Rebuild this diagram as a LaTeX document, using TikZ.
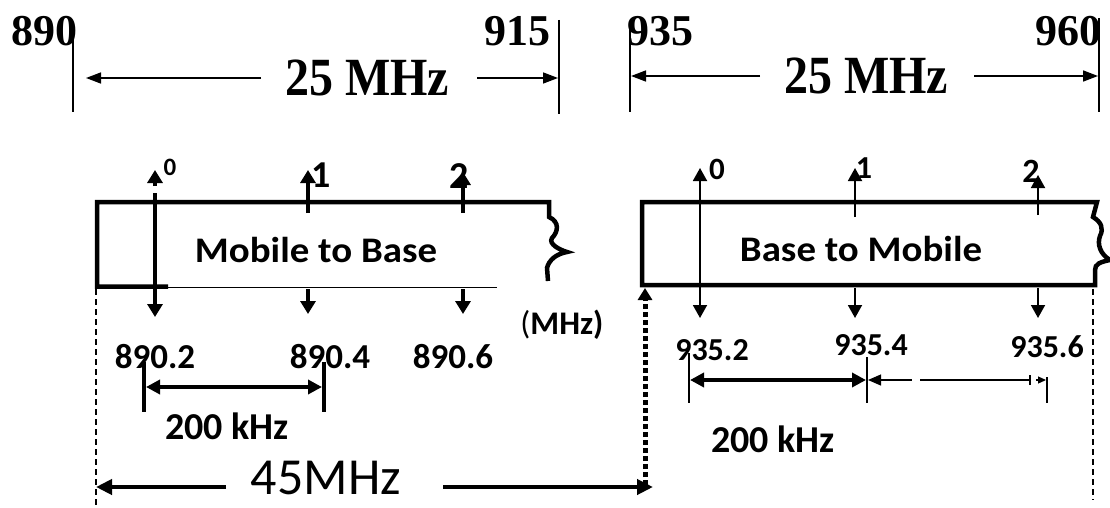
\documentclass[tikz,border=0pt]{standalone}
\usepackage{fontspec}
\setmainfont{Liberation Serif}
\newfontfamily\calfont{Carlito}
\usetikzlibrary{arrows.meta}
\begin{document}
\begin{tikzpicture}[x=1pt,y=-1pt,
  every node/.style={inner sep=0pt,outer sep=0pt},
  topnum/.style={font=\bfseries\fontsize{44}{44}\selectfont},
  bandlbl/.style={font=\bfseries\fontsize{48}{48}\selectfont},
  tickline/.style={line width=1.5pt},
  topdim/.style={line width=1.6pt,-{Triangle[length=15pt,width=11pt]}},
  boxline/.style={line width=4.5pt,line join=miter},
  chthick/.style={line width=4pt,-{Triangle[length=13pt,width=15pt]}},
  chthin/.style={line width=1.8pt,-{Triangle[length=13pt,width=14pt]}},
  sanslbl/.style={font=\calfont\bfseries\fontsize{36}{36}\selectfont},
  freqlbl/.style={font=\calfont\bfseries\fontsize{35}{35}\selectfont},
  freqlblr/.style={font=\calfont\bfseries\fontsize{32}{32}\selectfont},
  chlbl/.style={font=\calfont\bfseries\fontsize{#1}{#1}\selectfont},
  khzlbl/.style={font=\calfont\bfseries\fontsize{38}{38}\selectfont},
  dashv/.style={line width=1.3pt,dash pattern=on 6pt off 4pt},
  bigdim/.style={line width=4pt,-{Triangle[length=16pt,width=15pt]}},
  dimthick/.style={line width=3.5pt,{Triangle[length=14pt,width=14pt]}-{Triangle[length=14pt,width=14pt]}},
]
\useasboundingbox (0,0) rectangle (1110,508);

% ---------- top frequency bands ----------
\coordinate (a890t) at (73,22);   \coordinate (a890b) at (73,112);
\coordinate (a915t) at (559,20);  \coordinate (a915b) at (559,114);
\coordinate (a935t) at (630,26);  \coordinate (a935b) at (630,112);
\coordinate (a960t) at (1099,18); \coordinate (a960b) at (1099,112);
\draw[tickline] (a890t) -- (a890b);
\draw[tickline] (a915t) -- (a915b);
\draw[tickline] (a935t) -- (a935b);
\draw[tickline] (a960t) -- (a960b);

\node[topnum,anchor=base west] (n890) at (11,46) {890};
\node[topnum,anchor=base west] (n915) at (484,46) {915};
\node[topnum,anchor=base west] (n935) at (627,46) {935};
\node[topnum,anchor=base east] (n960) at (1101,46) {960};

\node[bandlbl] (bw1) at (367,78) {\scalebox{1}[1.12]{25 MHz}};
\node[bandlbl] (bw2) at (866,76) {\scalebox{1}[1.12]{25 MHz}};

\coordinate (d1a) at (261,78); \coordinate (d1b) at (86,78);
\coordinate (d1c) at (477,78); \coordinate (d1d) at (558,78);
\coordinate (d2a) at (760,76); \coordinate (d2b) at (631,76);
\coordinate (d2c) at (974,76); \coordinate (d2d) at (1098,76);
\draw[topdim] (d1a) -- (d1b);
\draw[topdim] (d1c) -- (d1d);
\draw[topdim] (d2a) -- (d2b);
\draw[topdim] (d2c) -- (d2d);

% ---------- left box: Mobile to Base ----------
\draw[boxline] (168,286.5) -- (97,286.5) -- (97,202) -- (549,202) -- (549,217)
  .. controls (560,222) and (558,232) .. (552,238)
  .. controls (548,244) and (560,250) .. (567,252)
  .. controls (556,254) and (549,260) .. (547,268) -- (548,281);
\draw[line width=1.5pt] (168,287.5) -- (497,287.5);
\node[sanslbl,anchor=base] (mtb) at (316,262) {\scalebox{1.08}[1]{Mobile to Base}};

\coordinate (l0a) at (155,186); \coordinate (l0b) at (155,170);
\coordinate (l0c) at (155,193); \coordinate (l0d) at (155,317);
\coordinate (l1a) at (308,213); \coordinate (l1b) at (308,170);
\coordinate (l1c) at (308,289); \coordinate (l1d) at (308,314);
\coordinate (l2a) at (463,213); \coordinate (l2b) at (463,172);
\coordinate (l2c) at (463,289); \coordinate (l2d) at (463,314);
\draw[chthick] (l0a) -- (l0b);
\draw[chthick] (l0c) -- (l0d);
\draw[chthick] (l1a) -- (l1b);
\draw[chthick] (l1c) -- (l1d);
\draw[chthick] (l2a) -- (l2b);
\draw[chthick] (l2c) -- (l2d);
\node[chlbl=25,anchor=base] (c0l) at (170,175) {0};
\node[chlbl=38,anchor=base] (c1l) at (321,187) {1};
\node[chlbl=38,anchor=base] (c2l) at (459,188) {2};

\node[font=\calfont\bfseries\fontsize{33}{33}\selectfont,anchor=base] (mhz) at (562,334) {{\mdseries(}MHz)};
\node[freqlbl,anchor=base] (f1) at (155,368) {890.2};
\node[freqlbl,anchor=base] (f2) at (330,368) {890.4};
\node[freqlbl,anchor=base] (f3) at (453,368) {890.6};

\coordinate (m1a) at (144,362); \coordinate (m1b) at (144,412);
\coordinate (m2a) at (324,362); \coordinate (m2b) at (324,412);
\draw[line width=3.5pt] (m1a) -- (m1b);
\draw[line width=3.5pt] (m2a) -- (m2b);
\coordinate (k1a) at (146,387); \coordinate (k1b) at (322,387);
\draw[dimthick] (k1a) -- (k1b);
\node[khzlbl,anchor=base] (khz1) at (227,439) {200 kHz};

% ---------- right box: Base to Mobile ----------
\draw[boxline] (1095,285) -- (642,285) -- (642,202) -- (1097,202) -- (1093,217)
  .. controls (1101,222) and (1104,228) .. (1100,236)
  .. controls (1097,244) and (1100,254) .. (1110,260)
  .. controls (1100,262) and (1095,264) .. (1095,270) -- cycle;
\node[sanslbl,anchor=base] (btm) at (861,261) {\scalebox{1.08}[1]{Base to Mobile}};

\coordinate (r0a) at (700,168); \coordinate (r0b) at (700,318);
\coordinate (r1a) at (855,217); \coordinate (r1b) at (855,168);
\coordinate (r1c) at (855,288); \coordinate (r1d) at (855,318);
\coordinate (r2a) at (1038,215); \coordinate (r2b) at (1038,175);
\coordinate (r2c) at (1038,288); \coordinate (r2d) at (1038,318);
\draw[chthin,{Triangle[length=13pt,width=14pt]}-{Triangle[length=13pt,width=14pt]}] (r0a) -- (r0b);
\draw[chthin] (r1a) -- (r1b);
\draw[chthin] (r1c) -- (r1d);
\draw[chthin] (r2a) -- (r2b);
\draw[chthin] (r2c) -- (r2d);
\node[chlbl=31,anchor=base] (c0r) at (717,179) {0};
\node[chlbl=32,anchor=base] (c1r) at (864,178) {1};
\node[chlbl=34,anchor=base] (c2r) at (1031,182) {2};

\node[freqlblr,anchor=base] (g1) at (712,360) {935.2};
\node[freqlblr,anchor=base] (g2) at (871,355) {935.4};
\node[freqlblr,anchor=base] (g3) at (1047,357) {935.6};

\coordinate (p1a) at (689,353); \coordinate (p1b) at (689,403);
\coordinate (p2a) at (867,357); \coordinate (p2b) at (867,403);
\coordinate (p3a) at (1047,377); \coordinate (p3b) at (1047,403);
\draw[line width=1.4pt] (p1a) -- (p1b);
\draw[line width=1.4pt] (p2a) -- (p2b);
\draw[line width=1.4pt] (p3a) -- (p3b);
\coordinate (k2a) at (690,380); \coordinate (k2b) at (866,380);
\draw[dimthick] (k2a) -- (k2b);
\coordinate (k3a) at (868,380); \coordinate (k3b) at (912,380);
\coordinate (k3c) at (920,380); \coordinate (k3d) at (1030,380);
\coordinate (k3e) at (1036,380); \coordinate (k3f) at (1046,380);
\draw[line width=1.2pt,{Triangle[length=13pt,width=11pt]}-] (k3a) -- (k3b);
\draw[line width=1.2pt] (k3c) -- (k3d);
\draw[line width=1.2pt] ([yshift=-5pt]k3d) -- ([yshift=5pt]k3d);
\draw[line width=1.2pt,-{Triangle[length=8pt,width=7pt]}] (k3e) -- (k3f);
\node[khzlbl,anchor=base] (khz2) at (773,452) {200 kHz};

% ---------- 45 MHz duplex spacing ----------
\coordinate (v1a) at (96,289);  \coordinate (v1b) at (96,508);
\coordinate (v2a) at (1093,289); \coordinate (v2b) at (1093,500);
\draw[dashv] (v1a) -- (v1b);
\draw[dashv] (v2a) -- (v2b);
\coordinate (dta) at (645,485); \coordinate (dtb) at (645,288);
\draw[line width=5pt,dash pattern=on 5pt off 3pt,-{Triangle[length=12pt,width=14pt]}] (dta) -- (dtb);

\node[font=\calfont\fontsize{52}{52}\selectfont,anchor=base] (dup) at (326,494) {45MHz};
\coordinate (e1a) at (226,487); \coordinate (e1b) at (96,487);
\coordinate (e2a) at (443,487); \coordinate (e2b) at (653,487);
\draw[bigdim] (e1a) -- (e1b);
\draw[bigdim] (e2a) -- (e2b);
\end{tikzpicture}
\end{document}
